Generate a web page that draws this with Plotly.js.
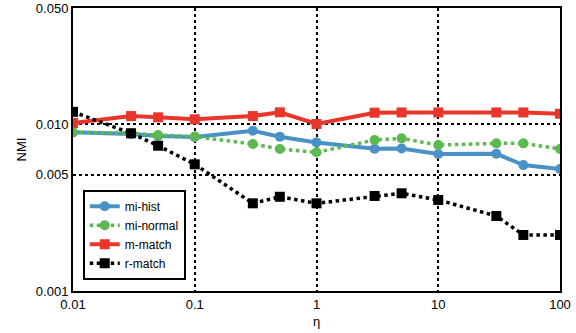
<!DOCTYPE html>
<html><head><meta charset="utf-8">
<script src="https://cdn.plot.ly/plotly-3.0.1.min.js"></script>
<style>html,body{margin:0;padding:0;background:#fff}#c{width:576px;height:333px}</style>
</head><body><div id="c"></div>
<script>
const eta = [0.01, 0.03, 0.05, 0.1, 0.3, 0.5, 1, 3, 5, 10, 30, 50, 100];
const miHist   = [0.00896, 0.00875, 0.00852, 0.0084, 0.00917, 0.00844, 0.0078, 0.00715, 0.00717, 0.00664, 0.00667, 0.0057, 0.0054];
const miNormal = [0.00896, 0.00888, 0.00863, 0.00845, 0.00763, 0.00712, 0.0068, 0.00806, 0.00825, 0.00752, 0.0077, 0.0077, 0.00712];
const mMatch   = [0.0102, 0.01123, 0.01103, 0.01074, 0.01123, 0.01182, 0.01006, 0.01176, 0.0118, 0.0118, 0.0118, 0.0118, 0.01159];
const rMatch   = [0.0119, 0.00885, 0.00745, 0.00576, 0.00336, 0.00368, 0.00336, 0.00372, 0.00386, 0.00352, 0.00282, 0.00217, 0.00217];
const yTickVals = [0.001, 0.005, 0.01, 0.05];
const yTickText = ['0.001', '0.005', '0.010', '0.050'];
const xTickVals = [0.01, 0.1, 1, 10, 100];
const xTickText = ['0.01', '0.1', '1', '10', '100'];

const font = {family: 'Liberation Sans, Arial, sans-serif', size: 13, color: '#000'};
const legFont = {family: 'Liberation Sans, Arial, sans-serif', size: 12, color: '#000'};
const traces = [
  {name: 'mi-hist', x: eta, y: miHist, mode: 'lines+markers',
   line: {color: '#4a91c6', width: 4}, marker: {symbol: 'circle', size: 10, color: '#4a91c6'}},
  {name: 'mi-normal', x: eta, y: miNormal, mode: 'lines+markers',
   line: {color: '#5cb94f', width: 3.5, dash: 'dot'}, marker: {symbol: 'circle', size: 10, color: '#5cb94f'}},
  {name: 'm-match', x: eta, y: mMatch, mode: 'lines+markers',
   line: {color: '#e9362b', width: 4}, marker: {symbol: 'square', size: 10, color: '#e9362b'}},
  {name: 'r-match', x: eta, y: rMatch, mode: 'lines+markers',
   line: {color: '#000', width: 3.5, dash: 'dot'}, marker: {symbol: 'square', size: 10, color: '#000'}}
];
const layout = {
  width: 576, height: 333,
  margin: {l: 73, r: 16, t: 8, b: 42},
  paper_bgcolor: '#fff', plot_bgcolor: '#fff',
  font: font,
  showlegend: true,
  legend: {x: 0.02, y: 0.04, xanchor: 'left', yanchor: 'bottom',
    bordercolor: '#000', borderwidth: 2, bgcolor: '#fff', font: legFont,
    tracegroupgap: 0, itemwidth: 30},
  xaxis: {type: 'log', range: [-2, 2], tickvals: xTickVals, ticktext: xTickText,
    showgrid: true, gridcolor: '#000', griddash: 'dot', gridwidth: 2,
    showline: true, linecolor: '#000', linewidth: 2, mirror: true,
    ticks: '', zeroline: false, tickfont: font,
    title: {text: 'η', font: font, standoff: 6}},
  yaxis: {type: 'log', range: [-3, Math.log10(0.05)], tickvals: yTickVals, ticktext: yTickText,
    showgrid: true, gridcolor: '#000', griddash: 'dot', gridwidth: 2,
    showline: true, linecolor: '#000', linewidth: 2, mirror: true,
    ticks: '', zeroline: false, tickfont: font,
    title: {text: 'NMI', font: font, standoff: 6}}
};
Plotly.newPlot('c', traces, layout, {displayModeBar: false, staticPlot: true});
</script>
</body></html>
